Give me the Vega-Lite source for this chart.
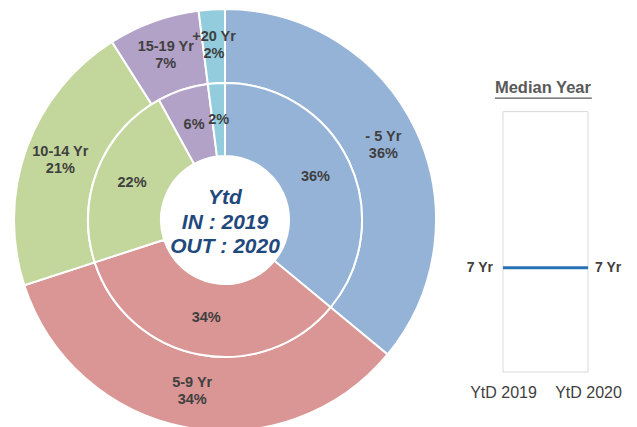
{
  "$schema": "https://vega.github.io/schema/vega-lite/v6.json",
  "padding": 0,
  "background": "white",
  "bounds": "flush",
  "spacing": 53,
  "config": {"view": {"stroke": null}, "font": "Liberation Sans",
    "axisX": {"values": [2019, 2020], "labelExpr": "'YtD ' + datum.value", "title": null, "domain": false, "ticks": false, "grid": false, "labelFlush": false, "labelPadding": 12, "labelFontSize": 16, "labelColor": "#404040", "labelFont": "Liberation Sans"}},
  "datasets": {
    "ages": [
      {"ring": "2019", "band": "- 5 Yr", "order": 1, "pct": 36, "pctLabel": "36%"},
      {"ring": "2019", "band": "5-9 Yr", "order": 2, "pct": 34, "pctLabel": "34%"},
      {"ring": "2019", "band": "10-14 Yr", "order": 3, "pct": 22, "pctLabel": "22%"},
      {"ring": "2019", "band": "15-19 Yr", "order": 4, "pct": 6, "pctLabel": "6%"},
      {"ring": "2019", "band": "+20 Yr", "order": 5, "pct": 2, "pctLabel": "2%"},
      {"ring": "2020", "band": "- 5 Yr", "order": 1, "pct": 36, "pctLabel": "36%"},
      {"ring": "2020", "band": "5-9 Yr", "order": 2, "pct": 34, "pctLabel": "34%"},
      {"ring": "2020", "band": "10-14 Yr", "order": 3, "pct": 21, "pctLabel": "21%"},
      {"ring": "2020", "band": "15-19 Yr", "order": 4, "pct": 7, "pctLabel": "7%"},
      {"ring": "2020", "band": "+20 Yr", "order": 5, "pct": 2, "pctLabel": "2%"}
    ],
    "median": [
      {"year": 2019, "median": 7, "label": "7 Yr"},
      {"year": 2020, "median": 7, "label": "7 Yr"}
    ]
  },
  "hconcat": [
    {
      "width": 450,
      "height": 440,
      "data": {"name": "ages"},
      "layer": [
        {
          "transform": [{"filter": "datum.ring == '2020'"}],
          "mark": {"type": "arc", "radius": 211, "radius2": 137, "stroke": "white", "strokeWidth": 2},
          "encoding": {
            "theta": {"field": "pct", "type": "quantitative", "stack": true},
            "order": {"field": "order", "type": "quantitative"},
            "color": {"field": "band", "type": "nominal", "legend": null,
              "scale": {"domain": ["- 5 Yr", "5-9 Yr", "10-14 Yr", "15-19 Yr", "+20 Yr"],
                        "range": ["#95B3D7", "#D99694", "#C3D69B", "#B3A2C7", "#93CDDD"]}}
          }
        },
        {
          "transform": [{"filter": "datum.ring == '2019'"}],
          "mark": {"type": "arc", "radius": 137, "radius2": 64, "stroke": "white", "strokeWidth": 2},
          "encoding": {
            "theta": {"field": "pct", "type": "quantitative", "stack": true},
            "order": {"field": "order", "type": "quantitative"},
            "color": {"field": "band", "type": "nominal", "legend": null}
          }
        },
        {
          "transform": [{"filter": "datum.ring == '2019'"}],
          "mark": {"type": "text", "radius": 100, "fontSize": 14.5, "fontWeight": "bold", "color": "#404040", "baseline": "middle", "align": "center"},
          "encoding": {
            "theta": {"field": "pct", "type": "quantitative", "stack": true},
            "order": {"field": "order", "type": "quantitative"},
            "text": {"field": "pctLabel", "type": "nominal"}
          }
        },
        {
          "transform": [{"filter": "datum.ring == '2020'"}],
          "mark": {"type": "text", "radius": 175, "dy": -8.5, "fontSize": 14.5, "fontWeight": "bold", "color": "#404040", "baseline": "middle", "align": "center"},
          "encoding": {
            "theta": {"field": "pct", "type": "quantitative", "stack": true},
            "order": {"field": "order", "type": "quantitative"},
            "text": {"field": "band", "type": "nominal"}
          }
        },
        {
          "transform": [{"filter": "datum.ring == '2020'"}],
          "mark": {"type": "text", "radius": 175, "dy": 8.5, "fontSize": 14.5, "fontWeight": "bold", "color": "#404040", "baseline": "middle", "align": "center"},
          "encoding": {
            "theta": {"field": "pct", "type": "quantitative", "stack": true},
            "order": {"field": "order", "type": "quantitative"},
            "text": {"field": "pctLabel", "type": "nominal"}
          }
        },
        {
          "data": {"values": [{"lines": ["Ytd", "IN : 2019", "OUT : 2020"]}]},
          "mark": {"type": "text", "fontSize": 21, "fontWeight": "bold", "fontStyle": "italic", "color": "#1F497D", "lineHeight": 24.5, "baseline": "middle", "align": "center", "dy": -22},
          "encoding": {"text": {"field": "lines", "type": "nominal"}}
        }
      ]
    },
    {
      "width": 85,
      "height": 372,
      "layer": [
        {
          "data": {"values": [{"frame": "box"}]},
          "mark": {"type": "rect", "fillOpacity": 0, "stroke": "#D9D9D9", "strokeWidth": 1},
          "encoding": {
            "x": {"datum": 2019, "type": "quantitative", "scale": {"domain": [2019, 2020], "nice": false, "zero": false}},
            "x2": {"datum": 2020},
            "y": {"datum": 0, "type": "quantitative", "axis": null, "scale": {"domain": [0, 25], "nice": false, "zero": false}},
            "y2": {"datum": 17.5}
          }
        },
        {
          "data": {"values": [{"title": "Median Year"}]},
          "mark": {"type": "text", "fontSize": 16.5, "fontWeight": "bold", "color": "#595959", "baseline": "middle", "align": "center"},
          "encoding": {
            "x": {"datum": 2019.47, "type": "quantitative"},
            "y": {"datum": 19.1, "type": "quantitative", "axis": null},
            "text": {"field": "title", "type": "nominal"}
          }
        },
        {
          "data": {"values": [{"underline": "title"}]},
          "mark": {"type": "rule", "color": "#595959", "strokeWidth": 1.2},
          "encoding": {
            "x": {"datum": 2018.905, "type": "quantitative"},
            "x2": {"datum": 2020.045},
            "y": {"datum": 18.4, "type": "quantitative", "axis": null}
          }
        },
        {
          "data": {"name": "median"},
          "mark": {"type": "line", "color": "#2A72B8", "strokeWidth": 3},
          "encoding": {
            "x": {"field": "year", "type": "quantitative"},
            "y": {"field": "median", "type": "quantitative", "axis": null}
          }
        },
        {
          "data": {"name": "median"},
          "transform": [{"filter": "datum.year == 2019"}],
          "mark": {"type": "text", "align": "right", "baseline": "middle", "dx": -10, "fontSize": 14, "fontWeight": "bold", "color": "#404040"},
          "encoding": {
            "x": {"field": "year", "type": "quantitative"},
            "y": {"field": "median", "type": "quantitative", "axis": null},
            "text": {"field": "label", "type": "nominal"}
          }
        },
        {
          "data": {"name": "median"},
          "transform": [{"filter": "datum.year == 2020"}],
          "mark": {"type": "text", "align": "left", "baseline": "middle", "dx": 7, "fontSize": 14, "fontWeight": "bold", "color": "#404040"},
          "encoding": {
            "x": {"field": "year", "type": "quantitative"},
            "y": {"field": "median", "type": "quantitative", "axis": null},
            "text": {"field": "label", "type": "nominal"}
          }
        }
      ]
    }
  ]
}
